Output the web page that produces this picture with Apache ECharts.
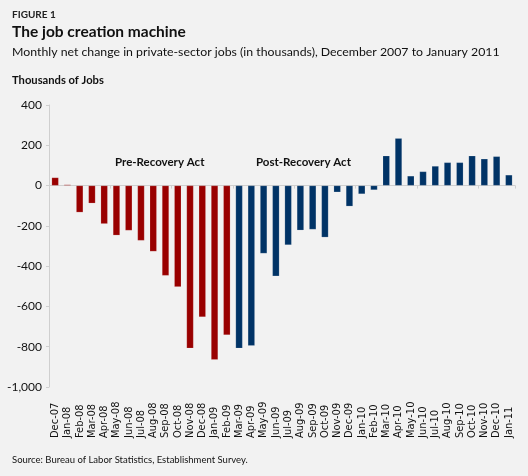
<!DOCTYPE html>
<html>
<head>
<meta charset="utf-8">
<script src="https://cdn.jsdelivr.net/npm/echarts@6/dist/echarts.min.js"></script>
<style>
html,body{margin:0;padding:0;background:#f2f2f2;}
#c{width:528px;height:476px;}
</style>
</head>
<body>
<div id="c"></div>
<script>
var categories = ["Dec-07","Jan-08","Feb-08","Mar-08","Apr-08","May-08","Jun-08","Jul-08","Aug-08","Sep-08","Oct-08","Nov-08","Dec-08","Jan-09","Feb-09","Mar-09","Apr-09","May-09","Jun-09","Jul-09","Aug-09","Sep-09","Oct-09","Nov-09","Dec-09","Jan-10","Feb-10","Mar-10","Apr-10","May-10","Jun-10","Jul-10","Aug-10","Sep-10","Oct-10","Nov-10","Dec-10","Jan-11"];
var preRecovery = [40,5,-133,-88,-190,-247,-223,-273,-327,-447,-503,-808,-653,-865,-742];
var postRecovery = [-808,-795,-337,-450,-295,-222,-218,-257,-33,-103,-42,-22,148,235,48,70,97,115,115,148,133,145,53];
var yTicks = [-1000,-800,-600,-400,-200,0,200,400];

var preData = categories.map(function(c,i){ return i < preRecovery.length ? preRecovery[i] : '-'; });
var postData = categories.map(function(c,i){ return i >= preRecovery.length ? postRecovery[i-preRecovery.length] : '-'; });

var FONT = 'Lato, "Open Sans", sans-serif';
var NARROW = '"Liberation Sans Narrow", "DejaVu Sans Condensed", Lato, sans-serif';
var chart = echarts.init(document.getElementById('c'));
chart.setOption({
  backgroundColor: '#f2f2f2',
  animation: false,
  textStyle: {fontFamily: FONT},
  title: [
    {text: 'FIGURE 1', left: 12, top: 10, padding: 0, textStyle: {fontSize: 10, fontWeight: 'bold', color: '#222', fontFamily: FONT}},
    {text: 'The job creation machine', left: 12, top: 24, padding: 0, textStyle: {fontSize: 15.5, fontWeight: 'bold', color: '#111', fontFamily: FONT}},
    {text: 'Monthly net change in private-sector jobs (in thousands), December 2007 to January 2011', left: 12, top: 46, padding: 0, textStyle: {fontSize: 12.3, fontWeight: 'normal', color: '#111', fontFamily: FONT}},
    {text: 'Thousands of Jobs', left: 12, top: 75, padding: 0, textStyle: {fontSize: 11.2, fontWeight: 'bold', color: '#111', fontFamily: FONT}},
    {text: 'Source: Bureau of Labor Statistics, Establishment Survey.', left: 12, top: 455, padding: 0, textStyle: {fontSize: 9.5, fontWeight: 'normal', color: '#111', fontFamily: FONT}}
  ],
  grid: {left: 49, right: 13, top: 105, bottom: 89, containLabel: false},
  xAxis: [
    {
      type: 'category', data: categories, position: 'bottom',
      axisLine: {show: true, onZero: true, lineStyle: {color: '#cfcfcf', width: 1}},
      axisTick: {show: true, alignWithLabel: false, length: 3, lineStyle: {color: '#cfcfcf'}},
      axisLabel: {show: false}, splitLine: {show: false}
    },
    {
      type: 'category', data: categories, position: 'bottom',
      axisLine: {show: false, onZero: false}, axisTick: {show: false},
      axisLabel: {show: true, rotate: 90, interval: 0, margin: 51, align: 'left', verticalAlign: 'middle',
        fontSize: 11, color: '#111', fontFamily: NARROW}
    }
  ],
  yAxis: {
    type: 'value', min: -1000, max: 400, interval: 200,
    axisLine: {show: true, lineStyle: {color: '#cfcfcf'}},
    axisTick: {show: true, length: 3, lineStyle: {color: '#cfcfcf'}},
    splitLine: {show: false},
    axisLabel: {margin: 7, fontSize: 12, color: '#111', fontFamily: FONT,
      formatter: function(v){ return yTicks.indexOf(v) >= 0 ? v.toLocaleString('en-US') : ''; }}
  },
  graphic: [
    {type: 'text', left: 115, top: 156, style: {text: 'Pre-Recovery Act', font: 'bold 11.5px ' + FONT, fill: '#111'}},
    {type: 'text', left: 256, top: 156, style: {text: 'Post-Recovery Act', font: 'bold 11.5px ' + FONT, fill: '#111'}}
  ],
  series: [
    {name: 'Pre-Recovery Act', type: 'bar', data: preData, stack: 'a', barWidth: '57%',
      itemStyle: {color: '#990000', borderColor: 'rgba(255,255,255,0.3)', borderWidth: 0.5}},
    {name: 'Post-Recovery Act', type: 'bar', data: postData, stack: 'a', barWidth: '57%',
      itemStyle: {color: '#003366', borderColor: 'rgba(255,255,255,0.3)', borderWidth: 0.5}}
  ]
});
</script>
</body>
</html>
